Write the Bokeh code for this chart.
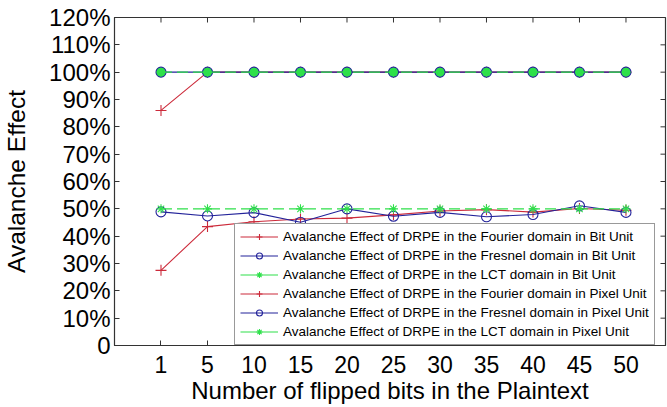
import math
from bokeh.plotting import figure
from bokeh.models import FixedTicker, Range1d, Legend, LegendItem
from bokeh.embed import file_html
from bokeh.resources import INLINE

bits = ["1", "5", "10", "15", "20", "25", "30", "35", "40", "45", "50"]
y_ticks = [0, 10, 20, 30, 40, 50, 60, 70, 80, 90, 100, 110, 120]

fourier_bit = [27.5, 43.5, 45.3, 46.3, 46.6, 47.8, 49.2, 49.7, 48.8, 50.1, 49.5]
fresnel_bit = [48.9, 47.4, 48.6, 45.1, 50.0, 47.3, 48.7, 47.1, 47.9, 51.1, 48.7]
lct_bit = [50.0, 50.0, 50.0, 50.0, 50.0, 50.0, 50.0, 50.0, 50.0, 50.0, 50.0]
fourier_pixel = [86.0, 100.0, 100.0, 100.0, 100.0, 100.0, 100.0, 100.0, 100.0, 100.0, 100.0]
fresnel_pixel = [100.0, 100.0, 100.0, 100.0, 100.0, 100.0, 100.0, 100.0, 100.0, 100.0, 100.0]
lct_pixel = [100.0, 100.0, 100.0, 100.0, 100.0, 100.0, 100.0, 100.0, 100.0, 100.0, 100.0]

labels = [
    "Avalanche Effect of DRPE in the Fourier domain in Bit Unit",
    "Avalanche Effect of DRPE in the Fresnel domain in Bit Unit",
    "Avalanche Effect of DRPE in the LCT domain in Bit Unit",
    "Avalanche Effect of DRPE in the Fourier domain in Pixel Unit",
    "Avalanche Effect of DRPE in the Fresnel domain in Pixel Unit",
    "Avalanche Effect of DRPE in the LCT domain in Pixel Unit",
]

RED = "#cc2a3a"
BLUE = "#23239a"
GREEN = "#2ee04a"
FRAME = "#333333"
FONT = "Liberation Sans"

xs = list(range(1, len(bits) + 1))
X_MAX = 11.85
Y_MAX = 120

p = figure(width=667, height=407, output_backend="svg", toolbar_location=None,
           x_range=Range1d(0, X_MAX), y_range=Range1d(0, Y_MAX),
           min_border_left=0, min_border_right=2, min_border_top=17, min_border_bottom=62)
p.background_fill_color = "white"
p.border_fill_color = "white"
p.outline_line_color = FRAME
p.outline_line_width = 1.2
p.xgrid.visible = False
p.ygrid.visible = False

for ax in (p.xaxis[0], p.yaxis[0]):
    ax.major_tick_in = 5
    ax.major_tick_out = 0
    ax.minor_tick_line_color = None
    ax.axis_line_color = FRAME
    ax.major_tick_line_color = FRAME
    ax.major_label_text_font = FONT
    ax.major_label_text_color = "black"
    ax.axis_label_text_font = FONT
    ax.axis_label_text_font_style = "normal"
    ax.axis_label_text_color = "black"

p.xaxis.ticker = FixedTicker(ticks=xs)
p.xaxis.major_label_overrides = {x: b for x, b in zip(xs, bits)}
p.xaxis.major_label_text_font_size = "23px"
p.xaxis.axis_label = "Number of flipped bits in the Plaintext"
p.xaxis.axis_label_text_font_size = "24px"
p.xaxis.axis_label_standoff = 1
p.xaxis.major_label_standoff = 10

p.yaxis.ticker = FixedTicker(ticks=y_ticks)
p.yaxis.major_label_overrides = {t: ("0" if t == 0 else f"{t}%") for t in y_ticks}
p.yaxis.major_label_text_font_size = "24px"
p.yaxis.axis_label = "Avalanche Effect"
p.yaxis.axis_label_text_font_size = "24.5px"
p.yaxis.axis_label_standoff = 16
p.yaxis.major_label_standoff = 4

# inward tick marks on the top and right sides of the box
p.scatter(xs, [Y_MAX] * len(xs), marker="dash", angle=math.pi / 2, size=10,
          line_color=FRAME, line_width=1)
p.scatter([X_MAX] * len(y_ticks), y_ticks, marker="dash", size=10,
          line_color=FRAME, line_width=1)

def series(ys, color, marker, dash="solid", msize=9, fill=None, lw=1.1):
    ln = p.line(xs, ys, line_color=color, line_width=lw, line_dash=dash)
    mk = p.scatter(xs, ys, marker=marker, size=msize, line_color=color,
                   fill_color=fill if fill else None, line_width=1.1)
    return ln, mk

NAN = [float("nan")]

def proxy(color, marker, msize=9):
    ln = p.line(NAN, NAN, line_color=color, line_width=1.1)
    mk = p.scatter(NAN, NAN, marker=marker, size=msize, line_color=color,
                   fill_color=None, line_width=1.1)
    return [ln, mk]

series(fourier_bit, RED, "cross", msize=11)
series(fresnel_bit, BLUE, "circle", msize=10)
series(lct_bit, GREEN, "asterisk", dash="11 5", msize=9, lw=1.4)
series(fourier_pixel, RED, "cross", msize=11)
series(fresnel_pixel, BLUE, "circle", msize=10, fill=GREEN)
series(lct_pixel, GREEN, "asterisk", dash="11 5", msize=9, lw=1.4)

legend_rs = [
    proxy(RED, "cross", 10),
    proxy(BLUE, "circle", 8),
    proxy(GREEN, "asterisk", 7),
    proxy(RED, "cross", 10),
    proxy(BLUE, "circle", 8),
    proxy(GREEN, "asterisk", 7),
]
items = [LegendItem(label=lab, renderers=rs) for lab, rs in zip(labels, legend_rs)]

legend = Legend(items=items, location=(120, 0), orientation="vertical",
                label_text_font=FONT, label_text_font_size="13.5px",
                label_text_color="black", glyph_width=38, glyph_height=15,
                label_height=15, spacing=4, padding=5, margin=0,
                border_line_color=FRAME, border_line_width=1.2,
                background_fill_alpha=1.0, label_standoff=5)
p.add_layout(legend)

open("out.html", "w").write(file_html(p, INLINE))
